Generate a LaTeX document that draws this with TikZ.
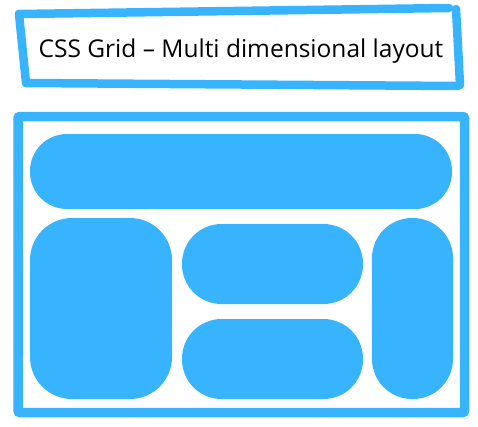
\documentclass[tikz,border=0pt]{standalone}
\usepackage{fontspec}
\setmainfont{Open Sans}
\usepackage{xcolor}
\definecolor{gridblue}{RGB}{56,180,255}
\tikzset{
  pill/.style={fill=gridblue, draw=none, inner sep=0pt},
  handline/.style={draw=gridblue, line width=8.5pt, line cap=round, line join=round}
}
\begin{document}
\begin{tikzpicture}[x=1pt,y=-1pt]
        \useasboundingbox (0,0) rectangle (478,426);
        % 标题框
        \coordinate (tl) at (19,14);
        \coordinate (tr) at (449,8);
        \coordinate (rt) at (456,9);
        \coordinate (rb) at (460,85);
        \coordinate (br) at (458,86);
        \coordinate (bl) at (26,83);
        \draw[handline] (tl) -- (tr);
        \draw[handline] (rt) -- (rb);
        \draw[handline] (br) -- (bl);
        \draw[handline] (bl) -- (tl);
        \node (title) at (241,51) {\fontsize{24.5}{28}\selectfont CSS Grid -- Multi dimensional layout};
        % 外框
        \draw[draw=gridblue, line width=9.5pt, rounded corners=2pt] (18,116.5) rectangle (464.5,412.5);
        % 网格块
        \node[pill, minimum width=422pt, minimum height=75pt, rounded corners=37pt] (header) at (241,171.5) {};
        \node[pill, minimum width=142pt, minimum height=181pt, rounded corners=42pt] (sidebar) at (101,308.5) {};
        \node[pill, minimum width=181pt, minimum height=80pt, rounded corners=39.5pt] (maintop) at (272.5,264) {};
        \node[pill, minimum width=181pt, minimum height=80pt, rounded corners=39.5pt] (mainbottom) at (272.5,359) {};
        \node[pill, minimum width=81pt, minimum height=181pt, rounded corners=40pt] (aside) at (412.5,308.5) {};
    \end{tikzpicture}
\end{document}
